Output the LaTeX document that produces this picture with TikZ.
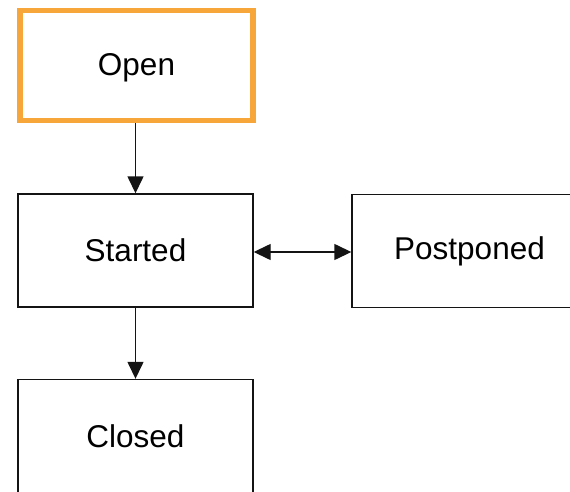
\documentclass[tikz,border=0pt]{standalone}
\usepackage{fontspec}
\setmainfont{Liberation Sans}
\usetikzlibrary{arrows.meta}
\definecolor{openorange}{RGB}{247,166,58}
\definecolor{linegray}{RGB}{20,20,20}
\begin{document}
\begin{tikzpicture}[x=1pt,y=1pt,
  statebox/.style={draw=linegray, line width=1.4pt, fill=white, rectangle,
    minimum width=235pt, minimum height=113pt, inner sep=0pt,
    font=\fontsize{31.5}{37}\selectfont},
  flow/.style={draw=linegray, line width=1.4pt,
    -{Triangle[length=17pt,width=16pt]}},
  both/.style={draw=linegray, line width=1.4pt,
    {Triangle[length=17pt,width=16pt]}-{Triangle[length=17pt,width=16pt]}}]
  \useasboundingbox (0,0) rectangle (570,491);
  \clip (0,0) rectangle (570,491);
  % states
  \node[statebox, draw=openorange, line width=5.5pt,
        minimum width=233pt, minimum height=110pt] (open) at (136.5,425.5) {};
  \node (opentext) at ([yshift=-2pt]open.center) {\fontsize{31.5}{37}\selectfont Open};
  \node[statebox] (started) at (135.5,240.5) {Started};
  \node[statebox] (postponed) at (469.5,240) {Postponed};
  \node[statebox] (closed) at (135.5,55) {Closed};
  % transitions
  \draw[flow] ([xshift=-1pt]open.south) -- (started.north);
  \draw[both] ([yshift=-1.5pt]started.east) -- ([yshift=-1pt]postponed.west);
  \draw[flow] (started.south) -- (closed.north);
\end{tikzpicture}
\end{document}
